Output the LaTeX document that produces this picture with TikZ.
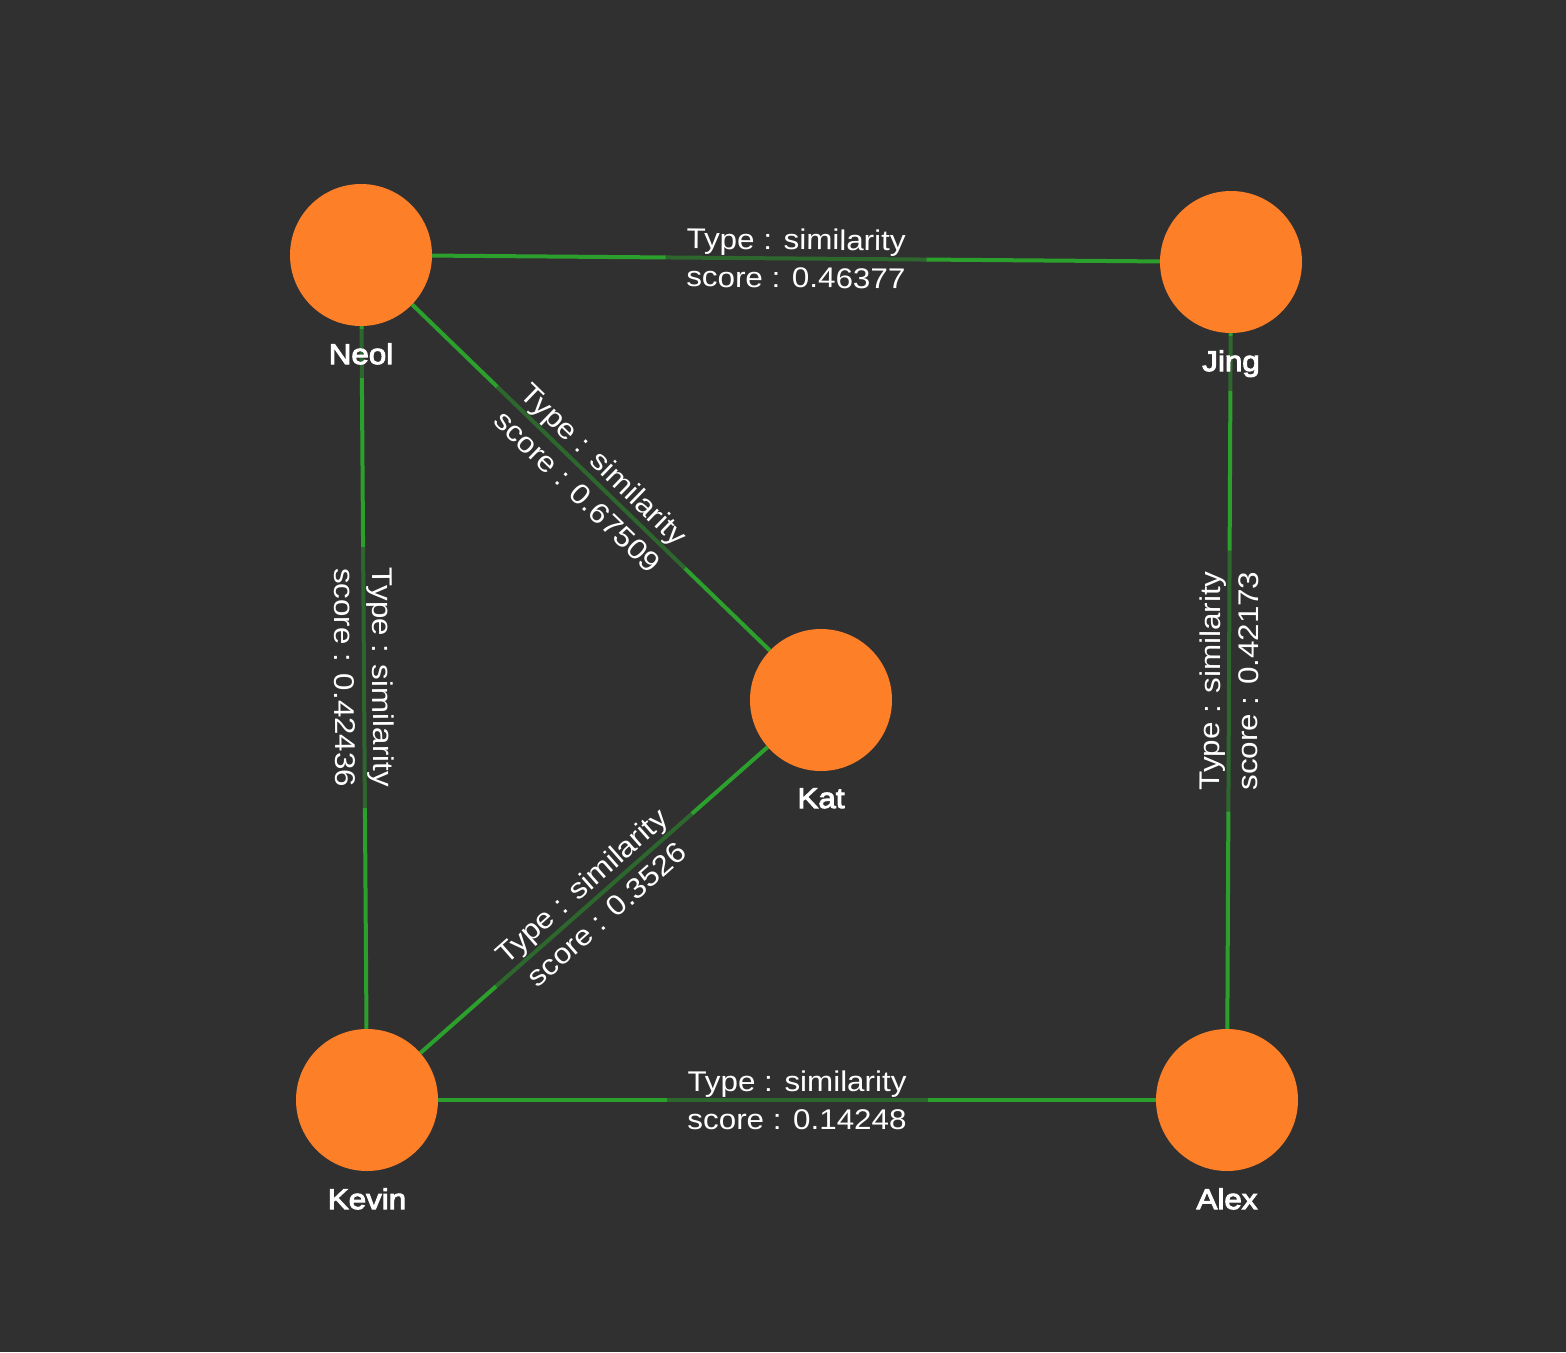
\documentclass[tikz,border=0pt]{standalone}
\usepackage{fontspec}
\setmainfont{Liberation Sans}[FakeStretch=1.1]
\newfontfamily\medfam{Liberation Sans}[FakeStretch=1.1,FakeBold=3.5]
\definecolor{bgc}{RGB}{48,48,48}
\definecolor{nodeor}{RGB}{253,127,40}
\definecolor{edgegr}{RGB}{44,160,44}
\pgfdeclarelayer{back}
\pgfdeclarelayer{edges}
\pgfsetlayers{back,edges,main}
\newcommand{\namefont}{\fontsize{28.5}{34}\selectfont\medfam}
\newcommand{\edgefont}{\fontsize{28.5}{38}\selectfont}
\begin{document}
\begin{tikzpicture}[x=1pt,y=-1pt,
  namebox/.style={fill=bgc,fill opacity=0.5,text opacity=1,text=white,font=\namefont,inner xsep=4pt,inner ysep=14pt},
  person/.style={circle,fill=nodeor,minimum size=142pt,inner sep=0pt,
    label={[namebox,label distance=3pt]below:#1}},
  link/.style={draw=edgegr,line width=4pt},
  linklabel/.style={midway,sloped,fill=bgc,fill opacity=0.5,text opacity=1,text=white,align=center,font=\edgefont,inner xsep=21pt,inner ysep=0pt}
]
\begin{pgfonlayer}{back}
\fill[bgc] (0,0) rectangle (1566,1352);
\end{pgfonlayer}
\useasboundingbox (0,0) rectangle (1566,1352);

\node[person=Neol] (neol) at (361,255) {};
\node[person=Jing] (jing) at (1231,262) {};
\node[person=Kat] (kat) at (821,700) {};
\node[person=Kevin] (kevin) at (367,1100) {};
\node[person=Alex] (alex) at (1227,1100) {};

\begin{pgfonlayer}{edges}
\draw[link] (neol) -- node[linklabel]{Type : similarity\\score : 0.46377} (jing);
\draw[link] (neol) -- node[linklabel]{Type : similarity\\score : 0.67509} (kat);
\draw[link] (neol) -- node[linklabel]{Type : similarity\\score : 0.42436} (kevin);
\draw[link] (jing) -- node[linklabel]{Type : similarity\\score : 0.42173} (alex);
\draw[link] (kevin) -- node[linklabel]{Type : similarity\\score : 0.3526} (kat);
\draw[link] (kevin) -- node[linklabel]{Type : similarity\\score : 0.14248} (alex);
\end{pgfonlayer}
\end{tikzpicture}
\end{document}
